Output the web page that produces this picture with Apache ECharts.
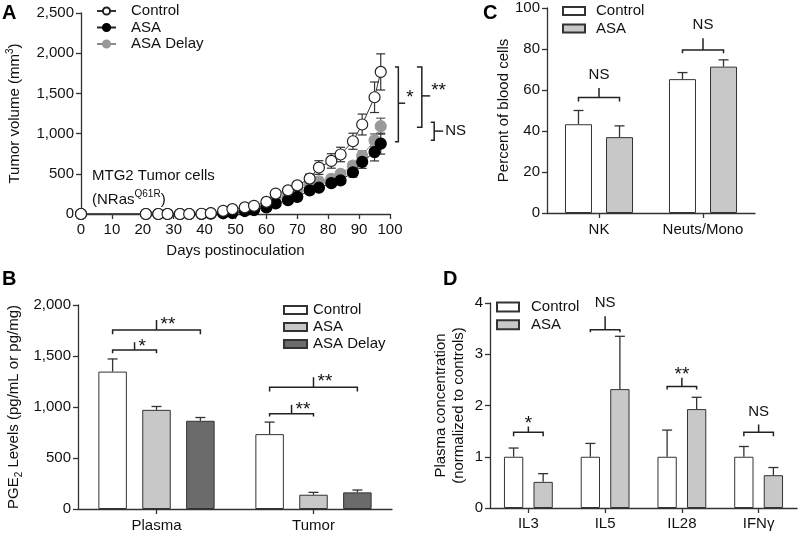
<!DOCTYPE html>
<html><head><meta charset="utf-8">
<script src="https://cdn.jsdelivr.net/npm/echarts@6.0.0/dist/echarts.min.js"></script>
<style>html,body{margin:0;padding:0;background:#fff}#c{width:800px;height:536px}</style>
</head><body><div id="c"></div>
<script>
// ---------- Panel A : tumor volume over time ----------
const daysA     = [0,21,25,28,32,35,39,42,46,49,53,56,60,63,67,70,74,77,81,84,88,91,95,97];
const ctrlA     = [0,0,0,0,0,0,3,10,40,61,82,102,151,254,294,356,440,578,660,740,905,1113,1452,1767];
const ctrlAErr  = [0,0,0,0,0,0,4,6,12,15,15,15,20,30,30,30,55,85,90,90,100,130,190,225];
const asaA      = [0,0,0,0,0,0,0,5,9,12,37,49,82,131,172,212,294,327,384,417,519,648,770,875];
const asaAErr   = [0,0,0,0,0,0,0,4,6,8,12,15,20,25,25,30,30,35,40,40,60,80,110,130];
const delayA    = [0,0,0,0,0,0,0,8,20,35,55,75,112,190,230,285,370,405,438,499,601,724,916,1092];
const delayAErr = [0,0,0,0,0,0,0,4,6,8,12,15,20,25,25,30,35,35,40,40,50,60,80,100];
// brackets: [xLine, xCap, yTop, yBottom, xTickEnd, yTick]
const sigA      = [[102.7,101.6,1828,899,104.9,1378],[110.3,108.7,1828,1080,113.0,1469],[114.3,113.2,1141,917,117.2,1031]];
const sigALab   = ['*','**','NS'];

// ---------- Panel B : PGE2 levels ----------
const catsB     = ['Plasma','Tumor'];
const ctrlB     = [1347,734];
const ctrlBErr  = [124,118];
const asaB      = [972,140];
const asaBErr   = [33,23];
const delayB    = [865,163];
const delayBErr = [32,23];
// [category, fromBar, toBar, yLine, yEnd, yTick]
const sigB      = [[0,0,1,1560,1527,1635],[0,0,2,1755,1713,1853],[1,0,1,933,907,1021],[1,0,2,1194,1152,1292]];
const sigBLab   = ['*','**','**','**'];

// ---------- Panel C : percent of blood cells ----------
const catsC     = ['NK','Neuts/Mono'];
const ctrlC     = [43.3,65.3];
const ctrlCErr  = [6.7,3.2];
const asaC      = [37.0,71.4];
const asaCErr   = [5.5,3.3];
const sigC      = [[0,0,1,56.3,54.4,61.0],[1,0,1,79.5,77.9,85.2]];
const sigCLab   = ['NS','NS'];

// ---------- Panel D : plasma cytokines ----------
const catsD     = ['IL3','IL5','IL28','IFNγ'];
const ctrlD     = [1,1,1,1];
const ctrlDErr  = [0.17,0.26,0.52,0.20];
const asaD      = [0.51,2.32,1.93,0.64];
const asaDErr   = [0.16,1.03,0.23,0.15];
const sigD      = [[0,0,1,1.48,1.40,1.59],[1,0,1,3.48,3.43,3.74],[2,0,1,2.37,2.31,2.54],[3,0,1,1.48,1.40,1.63]];
const sigDLab   = ['*','NS','**','NS'];

const FONT = "'Liberation Sans', Arial, Helvetica, sans-serif";
const TXT = '#111';
const AX = '#333';
const C_CTRL = '#ffffff', C_ASA = '#c8c8c8', C_DELAY = '#6b6b6b', C_DELAY_PT = '#999999';
const STAR_SIZE = 19, NS_SIZE = 15;

function barOffset(i, n, bw, gapPct) {
  const g = bw * gapPct / 100;
  const total = n * bw + (n - 1) * g;
  return -total / 2 + bw / 2 + i * (bw + g);
}
const comma = v => v.toLocaleString('en-US');

function valAxis(gi, min, max, interval, name, nameGap, extra) {
  return Object.assign({
    type: 'value', gridIndex: gi, min, max, interval,
    name, nameLocation: 'middle', nameGap,
    nameTextStyle: { fontSize: 15, color: TXT, fontFamily: FONT },
    axisLine: { show: true, lineStyle: { color: AX, width: 1.3 } },
    axisTick: { show: true, length: 5, lineStyle: { color: AX, width: 1.3 } },
    axisLabel: { fontSize: 15, color: TXT, fontFamily: FONT, margin: 7, formatter: comma },
    splitLine: { show: false }
  }, extra || {});
}
function catAxis(gi, data, margin) {
  return {
    type: 'category', gridIndex: gi, data,
    axisLine: { show: true, lineStyle: { color: AX, width: 1.3 } },
    axisTick: { show: true, alignWithLabel: true, length: 5, lineStyle: { color: AX, width: 1.3 } },
    axisLabel: { fontSize: 15, color: TXT, fontFamily: FONT, margin: margin, interval: 0 },
    splitLine: { show: false }
  };
}
function barSeries(name, gi, vals, color, bw, gap) {
  return { type: 'bar', name, xAxisIndex: gi, yAxisIndex: gi, data: vals, barWidth: bw, barGap: gap + '%',
    itemStyle: { color, borderColor: '#333', borderWidth: 1 }, z: 3, silent: true };
}
function errBarSeries(gi, vals, errs, i, n, bw, gap) {
  return { type: 'custom', xAxisIndex: gi, yAxisIndex: gi, z: 2, silent: true,
    data: vals.map((v, k) => [k, v, v + errs[k]]),
    encode: { x: 0, y: [1, 2] },
    renderItem(params, api) {
      const b = api.coord([api.value(0), api.value(1)]);
      const t = api.coord([api.value(0), api.value(2)]);
      const x = b[0] + barOffset(i, n, bw, gap);
      const st = { stroke: '#333', lineWidth: 1.3 };
      return { type: 'group', children: [
        { type: 'line', shape: { x1: x, y1: b[1], x2: x, y2: t[1] }, style: st },
        { type: 'line', shape: { x1: x - 5, y1: t[1], x2: x + 5, y2: t[1] }, style: st }
      ] };
    } };
}
function sigText(lab, x, y, align) {
  const star = lab[0] === '*';
  return { type: 'text', style: { text: lab, x, y, align, verticalAlign: 'middle',
    fontSize: star ? STAR_SIZE : NS_SIZE, fontFamily: FONT, fill: TXT } };
}
function sigBarSeries(gi, sig, labels, n, bw, gap, mode) {
  return { type: 'custom', xAxisIndex: gi, yAxisIndex: gi, z: 5, silent: true,
    data: sig, encode: { x: 0, y: 3 },
    renderItem(params, api) {
      const cat = api.value(0);
      const c = api.coord([cat, api.value(3)]);
      const x1 = c[0] + barOffset(api.value(1), n, bw, gap);
      const x2 = c[0] + barOffset(api.value(2), n, bw, gap);
      const yl = c[1];
      const ye = api.coord([cat, api.value(4)])[1];
      const yt = api.coord([cat, api.value(5)])[1];
      const xm = (x1 + x2) / 2;
      const lab = labels[params.dataIndex];
      const star = lab[0] === '*';
      const st = { stroke: '#222', lineWidth: 1.5, fill: null };
      const text = mode === 'right'
        ? sigText(lab, xm + 4, yt + 5, 'left')
        : sigText(lab, xm, yt - (star ? 3 : 13), 'center');
      return { type: 'group', children: [
        { type: 'polyline', shape: { points: [[x1, ye], [x1, yl], [x2, yl], [x2, ye]] }, style: st },
        { type: 'line', shape: { x1: xm, y1: yl, x2: xm, y2: yt }, style: st },
        text
      ] };
    } };
}
function errLineSeries(vals, errs, color) {
  return { type: 'custom', xAxisIndex: 0, yAxisIndex: 0, z: 2, silent: true,
    data: daysA.map((d, k) => [d, vals[k], errs[k]]),
    encode: { x: 0, y: 1 },
    renderItem(params, api) {
      const e = api.value(2);
      if (!(e > 0)) return;
      const lo = api.coord([api.value(0), api.value(1) - e]);
      const hi = api.coord([api.value(0), api.value(1) + e]);
      const st = { stroke: color, lineWidth: 1.2 };
      return { type: 'group', children: [
        { type: 'line', shape: { x1: lo[0], y1: lo[1], x2: hi[0], y2: hi[1] }, style: st },
        { type: 'line', shape: { x1: hi[0] - 4.5, y1: hi[1], x2: hi[0] + 4.5, y2: hi[1] }, style: st },
        { type: 'line', shape: { x1: lo[0] - 4.5, y1: lo[1], x2: lo[0] + 4.5, y2: lo[1] }, style: st }
      ] };
    } };
}
function lineSeries(name, vals, fill, border, lineColor, z) {
  return { type: 'line', name, xAxisIndex: 0, yAxisIndex: 0, z,
    data: daysA.map((d, k) => [d, vals[k]]),
    symbol: 'circle', symbolSize: 11, showSymbol: true, silent: true,
    itemStyle: { color: fill, borderColor: border, borderWidth: 1.2 },
    lineStyle: { color: lineColor, width: 1 } };
}

const chart = echarts.init(document.getElementById('c'), null, { renderer: 'canvas' });
const legendText = (pad) => ({ fontSize: 15, color: TXT, fontFamily: FONT, lineHeight: 16, padding: [0, 0, 0, pad] });

const option = {
  animation: false,
  backgroundColor: '#fff',
  textStyle: { fontFamily: FONT },
  grid: [
    { left: 81, top: 13, width: 309, height: 201 },
    { left: 78, top: 305, width: 314, height: 204 },
    { left: 547, top: 8, width: 208, height: 205 },
    { left: 490, top: 303, width: 307, height: 205 }
  ],
  xAxis: [
    valAxis(0, 0, 100, 10, 'Days postinoculation', 29, { axisLabel: { fontSize: 15, color: TXT, fontFamily: FONT, margin: 8 } }),
    catAxis(1, catsB, 9),
    catAxis(2, catsC, 9),
    catAxis(3, catsD, 8)
  ],
  yAxis: [
    valAxis(0, 0, 2500, 500, 'Tumor volume (mm{sup|3})', 56, {
      nameTextStyle: { fontSize: 15, color: TXT, fontFamily: FONT, lineHeight: 20,
        rich: { sup: { fontSize: 10, lineHeight: 10, verticalAlign: 'top', color: TXT, fontFamily: FONT } } } }),
    valAxis(1, 0, 2000, 500, 'PGE{sub|2} Levels (pg/mL or pg/mg)', 54, {
      nameTextStyle: { fontSize: 15, color: TXT, fontFamily: FONT, lineHeight: 20,
        rich: { sub: { fontSize: 10, lineHeight: 10, verticalAlign: 'bottom', color: TXT, fontFamily: FONT } } } }),
    valAxis(2, 0, 100, 20, 'Percent of blood cells', 31),
    valAxis(3, 0, 4, 1, 'Plasma concentration\n(normalized to controls)', 22, {
      nameTextStyle: { fontSize: 15, color: TXT, fontFamily: FONT, lineHeight: 18 } })
  ],
  legend: [
    { data: ['A-Control', 'A-ASA', 'A-ASA Delay'], formatter: n => n.slice(2), orient: 'vertical',
      left: 96, top: 3, padding: 0, itemWidth: 19, itemHeight: 9, itemGap: 0.5, textStyle: legendText(10), selectedMode: false },
    { data: ['B-Control', 'B-ASA', 'B-ASA Delay'], formatter: n => n.slice(2), orient: 'vertical', icon: 'rect',
      left: 283, top: 302, padding: 0, itemWidth: 23, itemHeight: 8, itemGap: 1, textStyle: legendText(1), selectedMode: false },
    { data: ['C-Control', 'C-ASA'], formatter: n => n.slice(2), orient: 'vertical', icon: 'rect',
      left: 562, top: 3, padding: 0, itemWidth: 22, itemHeight: 8, itemGap: 1.5, textStyle: legendText(6), selectedMode: false },
    { data: ['D-Control', 'D-ASA'], formatter: n => n.slice(2), orient: 'vertical', icon: 'rect',
      left: 496, top: 299, padding: 0, itemWidth: 22, itemHeight: 9, itemGap: 1.7, textStyle: legendText(7), selectedMode: false }
  ],
  series: [
    // A
    errLineSeries(delayA, delayAErr, '#555'),
    errLineSeries(asaA, asaAErr, '#333'),
    errLineSeries(ctrlA, ctrlAErr, '#333'),
    lineSeries('A-ASA Delay', delayA, C_DELAY_PT, C_DELAY_PT, '#8a8a8a', 3),
    lineSeries('A-ASA', asaA, '#000', '#000', '#222', 4),
    lineSeries('A-Control', ctrlA, '#fff', '#222', '#333', 5),
    { type: 'custom', xAxisIndex: 0, yAxisIndex: 0, z: 6, silent: true, clip: false,
      data: sigA, encode: { x: 0, y: 2 },
      renderItem(params, api) {
        const top = api.coord([api.value(0), api.value(2)]);
        const bot = api.coord([api.value(0), api.value(3)]);
        const capL = api.coord([api.value(1), api.value(2)])[0];
        const tk = api.coord([api.value(4), api.value(5)]);
        const lab = sigALab[params.dataIndex];
        const star = lab[0] === '*';
        const st = { stroke: '#222', lineWidth: 1.5, fill: null };
        return { type: 'group', children: [
          { type: 'polyline', shape: { points: [[capL, top[1]], [top[0], top[1]], [bot[0], bot[1]], [capL, bot[1]]] }, style: st },
          { type: 'line', shape: { x1: top[0], y1: tk[1], x2: tk[0], y2: tk[1] }, style: st },
          sigText(lab, tk[0] + (star ? 1 : 2), tk[1] - (star ? 5.5 : 0), 'left')
        ] };
      } },
    // B
    errBarSeries(1, ctrlB, ctrlBErr, 0, 3, 28.5, 54),
    errBarSeries(1, asaB, asaBErr, 1, 3, 28.5, 54),
    errBarSeries(1, delayB, delayBErr, 2, 3, 28.5, 54),
    barSeries('B-Control', 1, ctrlB, C_CTRL, 28.5, 54),
    barSeries('B-ASA', 1, asaB, C_ASA, 28.5, 54),
    barSeries('B-ASA Delay', 1, delayB, C_DELAY, 28.5, 54),
    sigBarSeries(1, sigB, sigBLab, 3, 28.5, 54, 'right'),
    // C
    errBarSeries(2, ctrlC, ctrlCErr, 0, 2, 27, 52),
    errBarSeries(2, asaC, asaCErr, 1, 2, 27, 52),
    barSeries('C-Control', 2, ctrlC, C_CTRL, 27, 52),
    barSeries('C-ASA', 2, asaC, C_ASA, 27, 52),
    sigBarSeries(2, sigC, sigCLab, 2, 27, 52, 'above'),
    // D
    errBarSeries(3, ctrlD, ctrlDErr, 0, 2, 19.3, 53),
    errBarSeries(3, asaD, asaDErr, 1, 2, 19.3, 53),
    barSeries('D-Control', 3, ctrlD, C_CTRL, 19.3, 53),
    barSeries('D-ASA', 3, asaD, C_ASA, 19.3, 53),
    sigBarSeries(3, sigD, sigDLab, 2, 19.3, 53, 'above')
  ],
  graphic: [
    { type: 'text', left: 2, top: 3, style: { text: 'A', fontSize: 20, fontWeight: 'bold', fontFamily: FONT, fill: '#000' } },
    { type: 'text', left: 2, top: 269, style: { text: 'B', fontSize: 20, fontWeight: 'bold', fontFamily: FONT, fill: '#000' } },
    { type: 'text', left: 483, top: 3, style: { text: 'C', fontSize: 20, fontWeight: 'bold', fontFamily: FONT, fill: '#000' } },
    { type: 'text', left: 443, top: 269, style: { text: 'D', fontSize: 20, fontWeight: 'bold', fontFamily: FONT, fill: '#000' } },
    { type: 'text', left: 92, top: 168, style: { text: 'MTG2 Tumor cells', fontSize: 15, fontFamily: FONT, fill: TXT } },
    { type: 'text', left: 92, top: 189, style: { text: '(NRas{sup|Q61R})', fontSize: 15, fontFamily: FONT, fill: TXT, lineHeight: 22,
      rich: { sup: { fontSize: 10, lineHeight: 10, verticalAlign: 'top', fontFamily: FONT, fill: TXT } } } }
  ]
};
chart.setOption(option);
</script>
</body></html>
